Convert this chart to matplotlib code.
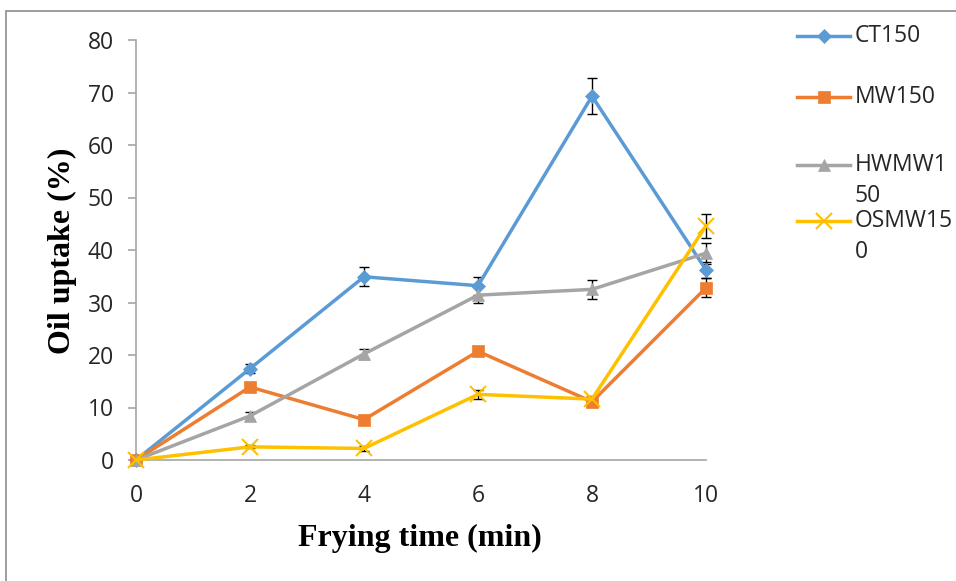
import matplotlib
matplotlib.use("Agg")
import matplotlib.pyplot as plt
from matplotlib.lines import Line2D
from matplotlib.patches import Rectangle

# Data
time_min = [0, 2, 4, 6, 8, 10]
ct150 = [0, 17.4, 34.9, 33.2, 69.3, 36.2]
ct150_err = [0, 0.9, 1.8, 1.7, 3.4, 1.5]
mw150 = [0, 13.9, 7.7, 20.7, 11.1, 32.8]
mw150_err = [0, 0.8, 0.6, 0.7, 0.6, 1.8]
hwmw150 = [0, 8.4, 20.2, 31.4, 32.5, 39.4]
hwmw150_err = [0, 0.7, 1.0, 1.5, 1.8, 2.0]
osmw150 = [0, 2.5, 2.2, 12.5, 11.6, 44.6]
osmw150_err = [0, 0.3, 0.4, 0.8, 0.6, 2.3]

series_names = ["CT150", "MW150", "HWMW150", "OSMW150"]
legend_labels = ["CT150", "MW150", "HWMW1\n50", "OSMW15\n0"]
colors = ["#5B9BD5", "#ED7D31", "#A5A5A5", "#FFC000"]
markers = ["D", "s", "^", "x"]
msizes = [7, 9, 9, 11]

W, H = 956, 581
fig = plt.figure(figsize=(W / 100, H / 100), dpi=100)
ax = fig.add_axes([136 / W, 1 - 460 / H, (706 - 136) / W, (460 - 40) / H])

# chart border (partly cropped in the original)
fig.add_artist(Rectangle((6 / W, -0.05), 1.1, 1 - 11 / H + 0.05,
                         transform=fig.transFigure, fill=False,
                         edgecolor="#8C8C8C", linewidth=1.2))

all_y = [ct150, mw150, hwmw150, osmw150]
all_err = [ct150_err, mw150_err, hwmw150_err, osmw150_err]

for y, e, c, m, ms in zip(all_y, all_err, colors, markers, msizes):
    ax.errorbar(time_min, y, yerr=e, fmt="none", ecolor="black",
                elinewidth=1, capsize=3.5, capthick=1, zorder=2, clip_on=False)
    ax.plot(time_min, y, color=c, linewidth=2.5, marker=m, markersize=ms,
            markeredgewidth=1.5 if m == "x" else 0.5, markeredgecolor=c,
            zorder=3, clip_on=False)

ax.set_xlim(0, 10)
ax.set_ylim(0, 80)
ax.set_xticks(time_min)
ax.set_yticks(range(0, 81, 10))

for side in ["top", "right"]:
    ax.spines[side].set_visible(False)
for side in ["left", "bottom"]:
    ax.spines[side].set_color("#A6A6A6")
    ax.spines[side].set_linewidth(1.2)

tick_font = "Open Sans"
ax.tick_params(axis="x", length=0, pad=17, labelsize=16.5)
ax.tick_params(axis="y", length=6, width=1.2, color="#A6A6A6", pad=10, labelsize=16.5)
for lbl in ax.get_xticklabels() + ax.get_yticklabels():
    lbl.set_fontfamily(tick_font)
    lbl.set_color("#262626")

fig.text(62 / W, 1 - 251 / H, "Oil uptake (%)", rotation=90, ha="center", va="center",
         fontfamily="Liberation Serif", fontweight="bold", fontsize=23)
fig.text(420 / W, 1 - 538 / H, "Frying time (min)", ha="center", va="center",
         fontfamily="Liberation Serif", fontweight="bold", fontsize=23)

# legend (Excel-style, labels wrap)
legend_y = [36, 97, 165, 221]
for lab, c, m, ms, ly in zip(legend_labels, colors, markers, msizes, legend_y):
    yf = 1 - ly / H
    fig.add_artist(Line2D([797 / W, 850 / W], [yf, yf], transform=fig.transFigure,
                          color=c, linewidth=2.5))
    fig.add_artist(Line2D([823.5 / W], [yf], transform=fig.transFigure, color=c,
                          marker=m, markersize=ms, markeredgecolor=c,
                          markeredgewidth=1.5 if m == "x" else 0.5))
    fig.text(855 / W, yf + 12 / H, lab, ha="left", va="top", fontfamily=tick_font,
             fontsize=16.5, color="#262626", linespacing=1.38)

fig.savefig("out.png", dpi=100)
